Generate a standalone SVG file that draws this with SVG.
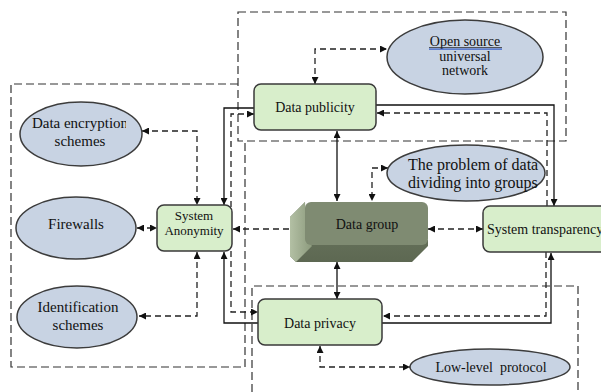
<svg xmlns="http://www.w3.org/2000/svg" width="601" height="392" viewBox="0 0 601 392">
<style>
.box{fill:none;stroke:#333;stroke-width:1.2;stroke-dasharray:8 4}
.dash{fill:none;stroke:#222;stroke-width:1.3;stroke-dasharray:6 4}
.solid{fill:none;stroke:#111;stroke-width:1.3}
.node{fill:#d8eecb;stroke:#3a3a3a;stroke-width:1.5}
.ell{fill:#c8d3e3;stroke:#3c3c3c;stroke-width:1.5}
.m{text-anchor:middle}
</style>
<defs>
<marker id="ah" viewBox="0 0 10 10" refX="10" refY="5" markerWidth="7" markerHeight="7" markerUnits="userSpaceOnUse" orient="auto-start-reverse">
<path d="M0,0 L10,5 L0,10 z" fill="#111"/>
</marker>
<linearGradient id="gl" x1="0" y1="0" x2="1" y2="0">
<stop offset="0" stop-color="#b3c0a4"/>
<stop offset="1" stop-color="#8c9a7d"/>
</linearGradient>
<linearGradient id="gb" x1="0" y1="0" x2="0" y2="1">
<stop offset="0" stop-color="#6f7b63"/>
<stop offset="1" stop-color="#5d6852"/>
</linearGradient>
<clipPath id="clipEnc"><rect x="0" y="100" width="126" height="60"/></clipPath>
<clipPath id="clipProb"><rect x="380" y="140" width="164" height="60"/></clipPath>
</defs>

<g id="regions">
<rect class="box" x="238" y="12" width="328" height="129"/>
<path class="box" d="M238,84 H11 V367 H245 V141"/>
<path class="box" d="M252,392 V286 H578 V392"/>
</g>

<g id="connectors">
<path class="dash" d="M315,84 V49 H387" marker-start="url(#ah)" marker-end="url(#ah)"/>
<path class="solid" d="M337,131 V201" marker-start="url(#ah)" marker-end="url(#ah)"/>
<path class="dash" d="M388,168 H372 V201" marker-start="url(#ah)" marker-end="url(#ah)"/>
<path class="solid" d="M376,105 H554 V206" marker-end="url(#ah)"/>
<path class="dash" d="M547,206 V113 H377" marker-end="url(#ah)"/>
<path class="dash" d="M428,229 H483" marker-start="url(#ah)" marker-end="url(#ah)"/>
<path class="dash" d="M546,252 V316 H383" marker-end="url(#ah)"/>
<path class="solid" d="M382,323 H551 V253" marker-end="url(#ah)"/>
<path class="solid" d="M337,262 V299" marker-start="url(#ah)" marker-end="url(#ah)"/>
<path class="dash" d="M320,346 V367 H410" marker-start="url(#ah)" marker-end="url(#ah)"/>
<path class="dash" d="M233,229 H303" marker-start="url(#ah)" marker-end="url(#ah)"/>
<path class="dash" d="M137,228 H157" marker-start="url(#ah)" marker-end="url(#ah)"/>
<path class="dash" d="M142,131 H197 V205" marker-start="url(#ah)" marker-end="url(#ah)"/>
<path class="dash" d="M197,252 V316 H139" marker-start="url(#ah)" marker-end="url(#ah)"/>
<path class="solid" d="M254,108 H224 V205" marker-end="url(#ah)"/>
<path class="dash" d="M254,114 H231 V312 H258" marker-start="url(#ah)" marker-end="url(#ah)"/>
<path class="solid" d="M258,323 H224 V252" marker-end="url(#ah)"/>
</g>

<g font-family="'Liberation Serif', 'Times New Roman', serif" font-size="14" fill="#111">
<g id="data-publicity">
<rect class="node" x="254" y="84" width="122" height="46" rx="7"/>
<text class="m" x="315" y="112" fill="#111">Data publicity</text>
</g>

<g id="system-anonymity">
<rect class="node" x="157" y="205" width="75" height="46" rx="7"/>
<text class="m" x="194" y="220" font-size="13" fill="#111">System</text>
<text class="m" x="194" y="235" font-size="13" fill="#111">Anonymity</text>
</g>

<g id="data-privacy">
<rect class="node" x="258" y="299" width="124" height="46" rx="7"/>
<text class="m" x="320" y="328" fill="#111">Data privacy</text>
</g>

<g id="system-transparency">
<rect class="node" x="483" y="206" width="130" height="46" rx="7"/>
<text x="487" y="234" fill="#111">System transparency</text>
</g>

<g id="data-group">
<path d="M305,202 L290,217 V256 L296,262 H412 L428,246 V240 L305,240 z" fill="url(#gb)"/>
<path d="M305,202 L290,217 V256 L296,262 L312,246 L308,240 z" fill="url(#gl)"/>
<rect x="305" y="202" width="123" height="43" rx="6" fill="#7f8b72"/>
<text class="m" x="367" y="229" fill="#111">Data group</text>
</g>

<g id="open-source">
<ellipse class="ell" cx="465" cy="57" rx="78" ry="37"/>
<text class="m" x="465" y="46" fill="#111">Open source</text>
<line x1="429" y1="47.6" x2="502" y2="47.6" stroke="#222" stroke-width="0.8"/>
<line x1="429" y1="49.2" x2="502" y2="49.2" stroke="#3b62c8" stroke-width="1.2"/>
<text class="m" x="465" y="61" fill="#111">universal</text>
<text class="m" x="465" y="75" fill="#111">network</text>
</g>

<g id="data-encryption">
<ellipse class="ell" cx="81" cy="134" rx="61" ry="32"/>
<g clip-path="url(#clipEnc)">
<text class="m" x="80" y="128" font-size="15" fill="#111">Data encryption</text>
</g>
<text class="m" x="80" y="146" font-size="15" fill="#111">schemes</text>
</g>

<g id="firewalls">
<ellipse class="ell" cx="76" cy="228" rx="60" ry="31"/>
<text class="m" x="76" y="229" font-size="15" fill="#111">Firewalls</text>
</g>

<g id="identification">
<ellipse class="ell" cx="77" cy="317" rx="60" ry="31"/>
<text class="m" x="78" y="312" font-size="15" fill="#111">Identification</text>
<text class="m" x="78" y="330" font-size="15" fill="#111">schemes</text>
</g>

<g id="problem-data">
<ellipse class="ell" cx="466" cy="173" rx="79" ry="28"/>
<g clip-path="url(#clipProb)">
<text x="408" y="170" font-size="16" fill="#111">The problem of data</text>
<text x="408" y="188" font-size="16" fill="#111">dividing into groups</text>
</g>
</g>

<g id="low-level">
<ellipse class="ell" cx="490" cy="367" rx="80" ry="18"/>
<text class="m" x="491" y="372" fill="#111" xml:space="preserve">Low-level  protocol</text>
</g>
</g>
</svg>
